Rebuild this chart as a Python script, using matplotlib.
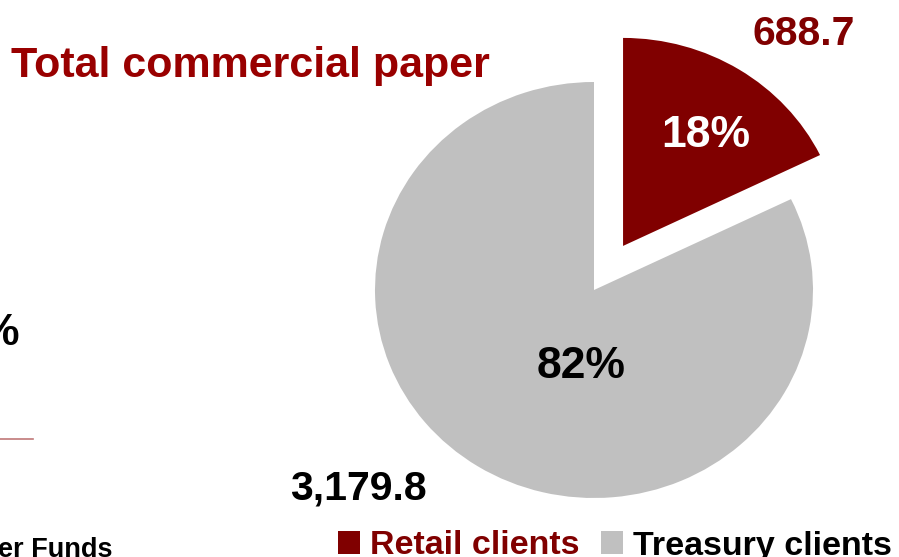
import matplotlib
matplotlib.use('Agg')
import matplotlib.pyplot as plt
from matplotlib.lines import Line2D

plt.rcParams['font.family'] = ['Liberation Sans', 'DejaVu Sans']
plt.rcParams['font.weight'] = 'bold'

# commercial paper split by client type
segments = ['Retail clients', 'Treasury clients']
amounts = [688.7, 3179.8]
seg_colors = ['#800000', '#c0c0c0']
value_colors = ['#800000', 'black']
pct_colors = ['white', 'black']

W, H = 899, 557
fig = plt.figure(figsize=(W / 100, H / 100), dpi=100)


def px(x, y):
    # pixel position from the top-left corner -> figure fraction
    return x / W, 1 - y / H


# pie centre and radii in pixels (slide is slightly squashed vertically)
cx, cy = 594, 290
rx, ry = 219, 208

ax = fig.add_axes([0, 0, 1, 1])
wedges, _ = ax.pie(amounts, colors=seg_colors, startangle=90, counterclock=False,
                   explode=[0.25, 0], wedgeprops=dict(linewidth=0))
ax.set_aspect('auto')
ax.set_xlim(-cx / rx, (W - cx) / rx)
ax.set_ylim(-(H - cy) / ry, cy / ry)
ax.axis('off')

total = sum(amounts)
pct_pos = [(706, 147), (581, 378)]
value_pos = [(804, 45), (358, 499)]
for v, pc, vc, pp, vp in zip(amounts, pct_colors, value_colors, pct_pos, value_pos):
    fig.text(*px(*pp), f"{v / total * 100:.0f}%", color=pc, fontsize=32,
             ha='center', va='baseline')
    fig.text(*px(*vp), f"{v:,.1f}", color=vc, fontsize=29.5,
             ha='center', va='baseline')

fig.text(*px(11, 77), 'Total commercial paper', color='#990000', fontsize=31,
         ha='left', va='baseline')

# bits of the neighbouring panel on the slide
fig.text(*px(19, 345), '%', color='black', fontsize=32, ha='right', va='baseline')
fig.text(*px(-2, 557), 'er Funds', color='black', fontsize=19.5, ha='left', va='baseline')
fig.add_artist(Line2D([0, 33 / W], [1 - 439 / H] * 2, transform=fig.transFigure,
                      color='#c07878', lw=1.2))

leg = fig.legend(wedges, segments, loc='center left', bbox_to_anchor=px(338, 546),
                 ncol=2, frameon=False, fontsize=24.5, handlelength=0.65,
                 handleheight=0.62, handletextpad=0.3, columnspacing=0.62,
                 borderpad=0, borderaxespad=0)
for t, c in zip(leg.get_texts(), value_colors):
    t.set_color(c)

fig.savefig('out.png', dpi=100)
